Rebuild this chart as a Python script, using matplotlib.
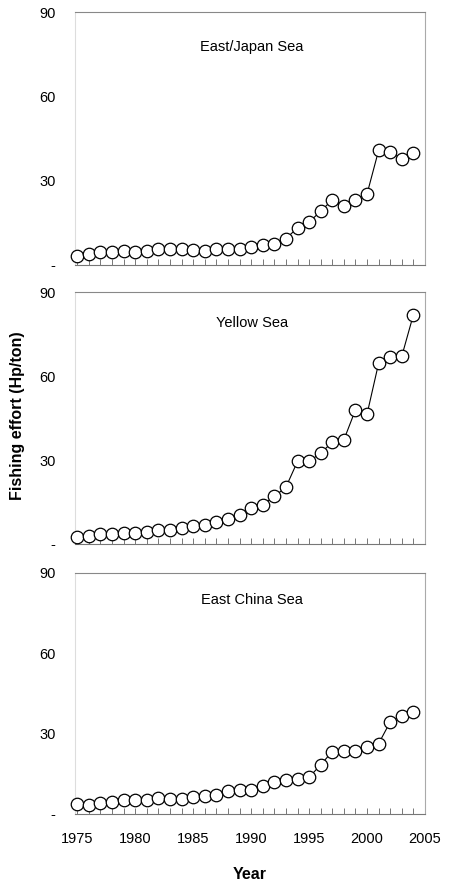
import numpy as np
import matplotlib
matplotlib.use('Agg')
import matplotlib.pyplot as plt

plt.rcParams['font.family'] = ['Liberation Sans', 'DejaVu Sans']

# Years and fishing effort (Hp/ton)
years = list(range(1975, 2005))

east_japan = [3.2, 3.9, 4.5, 4.5, 4.9, 4.7, 5.1, 5.6, 5.6, 5.6,
              5.5, 5.1, 5.7, 5.7, 5.7, 6.5, 7.0, 7.4, 9.4, 13.2,
              15.2, 19.2, 23.1, 20.9, 23.1, 25.3, 40.8, 40.1, 37.8, 40.0]

yellow = [2.5, 2.9, 3.4, 3.4, 3.8, 3.9, 4.2, 4.9, 5.0, 5.6,
          6.3, 6.8, 8.0, 8.9, 10.5, 12.8, 14.0, 17.0, 20.3, 29.5,
          29.5, 32.5, 36.3, 37.2, 47.9, 46.4, 64.6, 66.8, 67.1, 81.9]

east_china = [3.7, 3.5, 4.1, 4.5, 5.1, 5.1, 5.4, 5.9, 5.7, 5.7,
              6.2, 6.6, 7.2, 8.6, 9.0, 9.1, 10.3, 11.8, 12.7, 13.1,
              13.7, 18.4, 23.3, 23.7, 23.4, 24.9, 26.3, 34.4, 36.7, 38.1]

panels = ['East/Japan Sea', 'Yellow Sea', 'East China Sea']
series = [east_japan, yellow, east_china]
yticks = [0, 30, 60, 90]
ytick_labels = ['-', '30', '60', '90']
xticks = [1975, 1980, 1985, 1990, 1995, 2000, 2005]

W, H = 451, 891
fig = plt.figure(figsize=(W / 100, H / 100), dpi=100)

# axes boxes in pixels: (top of 90, position of 0)
boxes = [(12, 265), (292, 544), (573, 814)]
title_y = [0.86, 0.877, 0.888]
left_px, right_px = 75, 425

for i, (name, vals) in enumerate(zip(panels, series)):
    top, bot = boxes[i]
    ax = fig.add_axes([left_px / W, 1 - bot / H, (right_px - left_px) / W, (bot - top) / H])
    ax.plot(years, vals, color='black', lw=0.8, marker='o', ms=9,
            mfc='white', mec='black', mew=0.9, zorder=3, clip_on=False)
    ax.set_xlim(1974.8, 2005)
    ax.set_ylim(0, 90)
    ax.set_yticks(yticks)
    ax.set_yticklabels(ytick_labels, fontsize=10.5)
    ax.tick_params(axis='y', length=0, pad=14)
    ax.set_xticks(xticks)
    ax.set_xticks(years, minor=True)
    ax.tick_params(axis='x', which='both', direction='in', length=4,
                   color='#777777', width=0.7)
    if i < 2:
        ax.set_xticklabels([])
    else:
        ax.set_xticklabels([str(x) for x in xticks], fontsize=10.5)
        ax.tick_params(axis='x', pad=13)
        ax.set_xlabel('Year', fontsize=11.5, fontweight='bold', labelpad=15)
    for side, col in [('top', '#888888'), ('bottom', '#777777'),
                      ('left', '#dddddd'), ('right', '#aaaaaa')]:
        ax.spines[side].set_color(col)
        ax.spines[side].set_linewidth(0.8)
    ax.text(0.506, title_y[i], name, transform=ax.transAxes, ha='center',
            va='center', fontsize=10.5)

fig.text(18 / W, 1 - 416 / H, 'Fishing effort (Hp/ton)', rotation=90,
         ha='center', va='center', fontsize=11.5, fontweight='bold')

fig.savefig('out.png', dpi=100)
